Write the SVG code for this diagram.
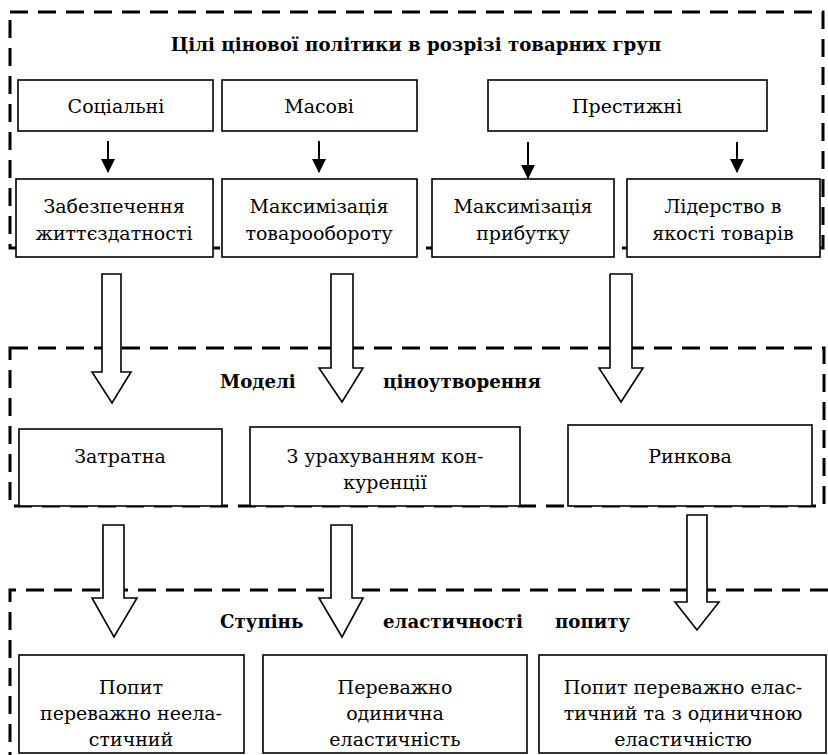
<svg xmlns="http://www.w3.org/2000/svg" width="828" height="755" viewBox="0 0 828 755">
<style>
.dash{fill:none;stroke:#000;stroke-width:3;stroke-dasharray:18 10}
.box{fill:#fff;stroke:#000;stroke-width:1.6}
.t{font-family:"DejaVu Serif",serif;font-size:19px;text-anchor:middle;fill:#000}
.b{font-family:"DejaVu Serif",serif;font-size:18.2px;font-weight:bold;fill:#000}
.big{fill:#fff;stroke:#000;stroke-width:1.6;stroke-linejoin:miter}
.sm{stroke:#000;stroke-width:2;fill:none}
</style>
<defs>
<marker id="ah" markerWidth="14" markerHeight="14" refX="13" refY="7" orient="auto" markerUnits="userSpaceOnUse" viewBox="0 0 14 14">
<path d="M0,0 L14,7 L0,14 z" fill="#000"/>
</marker>
</defs>
<g id="sections">
<rect class="dash" x="10" y="12" width="813" height="236"/>
<rect class="dash" x="10" y="348" width="814" height="158"/>
<path class="dash" d="M10,770 L10,590 L840,590"/>
</g>
<g id="title1"><text class="b" x="416" y="51" text-anchor="middle">Цілі цінової політики в розрізі товарних груп</text></g>
<g id="title2"><text class="b" y="388"><tspan x="220">Моделі</tspan><tspan x="383">ціноутворення</tspan></text></g>
<g id="title3"><text class="b" y="628"><tspan x="220">Ступінь</tspan><tspan x="383">еластичності</tspan><tspan x="555">попиту</tspan></text></g>

<g id="n-social"><rect class="box" x="18" y="80" width="195" height="51"/><text class="t" x="116" y="113">Соціальні</text></g>
<g id="n-mass"><rect class="box" x="222" y="80" width="195" height="51"/><text class="t" x="319" y="113">Масові</text></g>
<g id="n-prestige"><rect class="box" x="488" y="80" width="279" height="51"/><text class="t" x="627" y="113">Престижні</text></g>

<g id="n-survival"><rect class="box" x="16" y="179" width="197" height="78"/><text class="t" x="114" y="213">Забезпечення</text><text class="t" x="114" y="240">життєздатності</text></g>
<g id="n-turnover"><rect class="box" x="222" y="179" width="195" height="78"/><text class="t" x="319" y="213">Максимізація</text><text class="t" x="319" y="240">товарообороту</text></g>
<g id="n-profit"><rect class="box" x="432" y="179" width="182" height="78"/><text class="t" x="523" y="213">Максимізація</text><text class="t" x="523" y="240">прибутку</text></g>
<g id="n-quality"><rect class="box" x="627" y="179" width="193" height="78"/><text class="t" x="723" y="213">Лідерство в</text><text class="t" x="723" y="240">якості товарів</text></g>

<g id="n-cost"><rect class="box" x="19" y="429" width="203" height="77"/><text class="t" x="120" y="463">Затратна</text></g>
<g id="n-competition"><rect class="box" x="250" y="427" width="270" height="79"/><text class="t" x="385" y="463">З урахуванням кон-</text><text class="t" x="385" y="489">куренції</text></g>
<g id="n-market"><rect class="box" x="568" y="425" width="244" height="81"/><text class="t" x="690" y="463">Ринкова</text></g>

<g id="n-inelastic"><rect class="box" x="19" y="655" width="225" height="98"/><text class="t" x="131" y="694">Попит</text><text class="t" x="131" y="720">переважно неела-</text><text class="t" x="131" y="746">стичний</text></g>
<g id="n-unit"><rect class="box" x="263" y="655" width="264" height="98"/><text class="t" x="395" y="694">Переважно</text><text class="t" x="395" y="720">одинична</text><text class="t" x="395" y="746">еластичність</text></g>
<g id="n-elastic"><rect class="box" x="539" y="655" width="287" height="98"/><text class="t" x="683" y="694">Попит переважно елас-</text><text class="t" x="683" y="720">тичний та з одиничною</text><text class="t" x="683" y="746">еластичністю</text></g>

<g id="connectors">
<line class="sm" x1="108" y1="141" x2="108" y2="172" marker-end="url(#ah)"/>
<line class="sm" x1="319" y1="141" x2="319" y2="172" marker-end="url(#ah)"/>
<line class="sm" x1="528" y1="142" x2="528" y2="178" marker-end="url(#ah)"/>
<line class="sm" x1="737" y1="142" x2="737" y2="172" marker-end="url(#ah)"/>
<path class="big" d="M102,274 L121,274 L121,372 L131,372 L112,403 L92,372 L102,372 Z"/>
<path class="big" d="M331,274 L353,274 L353,368 L363,368 L342,402 L319,368 L331,368 Z"/>
<path class="big" d="M610,274 L632,274 L632,368 L643,368 L621,402 L599,368 L610,368 Z"/>
<path class="big" d="M103,525 L124,525 L124,598 L137,598 L114,637 L92,598 L103,598 Z"/>
<path class="big" d="M331,525 L352,525 L352,598 L363,598 L342,637 L319,598 L331,598 Z"/>
<path class="big" d="M687,515 L707,515 L707,602 L719,602 L697,630 L675,602 L687,602 Z"/>
</g>
</svg>
